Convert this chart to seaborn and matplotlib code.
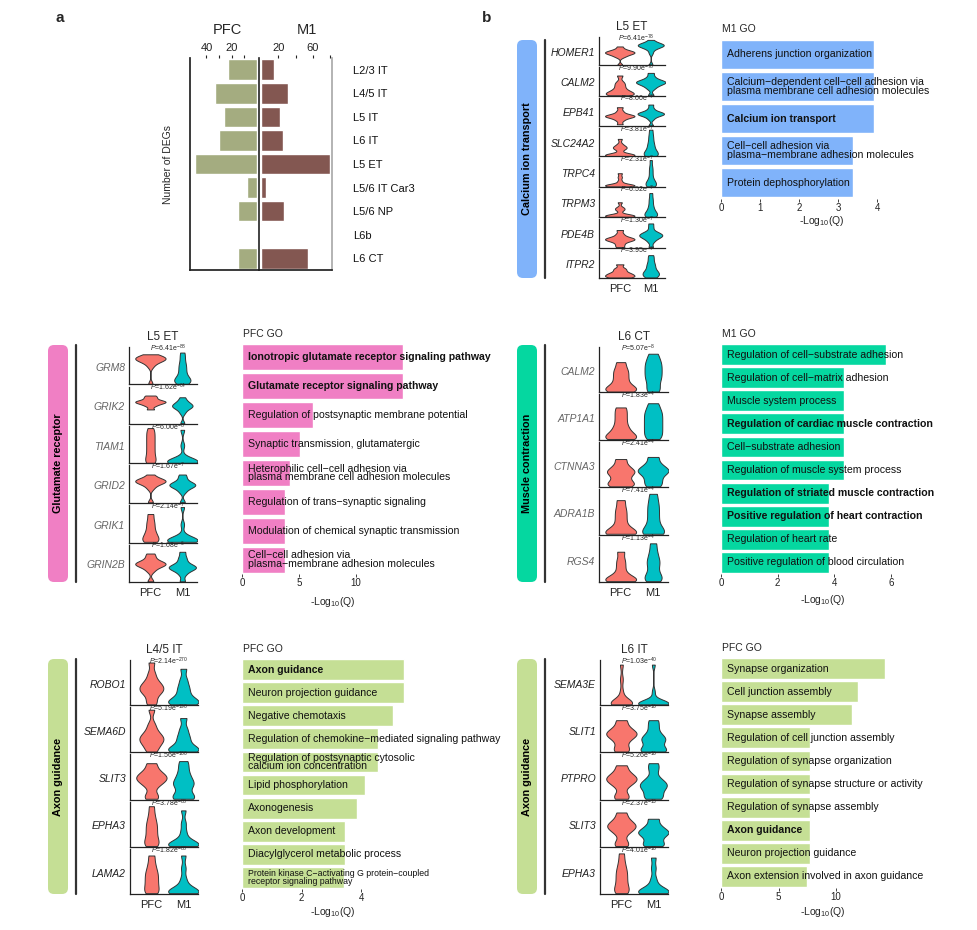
import numpy as np
import pandas as pd
import matplotlib
matplotlib.use('Agg')
import matplotlib.pyplot as plt
import seaborn as sns
from matplotlib.patches import FancyBboxPatch
from matplotlib.lines import Line2D

# ---------------- data ----------------
# panel a: number of DEGs per cell type
cell_types = ['L2/3 IT', 'L4/5 IT', 'L5 IT', 'L6 IT', 'L5 ET', 'L5/6 IT Car3', 'L5/6 NP', 'L6b', 'L6 CT']
pfc_degs = [23, 33, 26, 30, 49, 8, 15, 0, 15]
m1_degs = [15, 31, 22, 25, 80, 6, 27, 1.5, 54]

# violin panels (expression values per gene, scaled 0-1)
ca_genes = ['HOMER1', 'CALM2', 'EPB41', 'SLC24A2', 'TRPC4', 'TRPM3', 'PDE4B', 'ITPR2']
ca_pfc = [[0, 0.3, 0.35, 0.4, 0.42, 0.45, 0.46, 0.48, 0.5, 0.52, 0.55, 0.6, 0.7],
          [0, 0.02, 0.04, 0.06, 0.1, 0.15, 0.2, 0.3, 0.4, 0.5, 0.75],
          [0.05, 0.2, 0.28, 0.33, 0.35, 0.36, 0.38, 0.4, 0.45, 0.55, 0.7],
          [0, 0.01, 0.02, 0.03, 0.04, 0.05, 0.06, 0.08, 0.25, 0.3, 0.33, 0.36, 0.45, 0.65],
          [0, 0.01, 0.02, 0.03, 0.04, 0.05, 0.06, 0.08, 0.2, 0.35, 0.5],
          [0, 0.01, 0.02, 0.03, 0.04, 0.05, 0.06, 0.08, 0.25, 0.3, 0.35, 0.55],
          [0, 0.1, 0.2, 0.25, 0.28, 0.3, 0.32, 0.35, 0.4, 0.5, 0.65],
          [0, 0.02, 0.05, 0.08, 0.12, 0.15, 0.2, 0.28, 0.35, 0.5]]
ca_m1 = [[0, 0.45, 0.6, 0.65, 0.7, 0.72, 0.74, 0.75, 0.77, 0.78, 0.8, 0.85, 0.95],
         [0, 0.25, 0.35, 0.4, 0.45, 0.48, 0.5, 0.52, 0.55, 0.6, 0.7, 0.85],
         [0, 0.25, 0.35, 0.4, 0.42, 0.44, 0.46, 0.48, 0.5, 0.55, 0.65, 0.8],
         [0, 0.02, 0.05, 0.1, 0.15, 0.2, 0.3, 0.4, 0.5, 0.65, 0.8, 1.0],
         [0, 0.03, 0.06, 0.1, 0.15, 0.2, 0.3, 0.45, 0.6, 0.75, 1.0],
         [0, 0.03, 0.06, 0.1, 0.15, 0.2, 0.3, 0.4, 0.55, 0.7, 0.9],
         [0, 0.2, 0.3, 0.35, 0.4, 0.42, 0.45, 0.48, 0.5, 0.55, 0.6, 0.75, 0.9],
         [0, 0.05, 0.1, 0.15, 0.2, 0.25, 0.35, 0.45, 0.55, 0.7, 0.85]]
ca_pvals = ['6.41e-78', '9.90e-78', '8.00e-7', '3.81e-7', '2.31e-7', '6.52e-7', '1.30e-7', '3.95e-7']

glu_genes = ['GRM8', 'GRIK2', 'TIAM1', 'GRID2', 'GRIK1', 'GRIN2B']
glu_pfc = [[0, 0.5, 0.6, 0.65, 0.68, 0.7, 0.72, 0.74, 0.75, 0.78, 0.8, 0.85],
           [0.4, 0.5, 0.55, 0.58, 0.6, 0.62, 0.64, 0.65, 0.7, 0.75, 0.8],
           [0, 0.05, 0.1, 0.2, 0.3, 0.4, 0.5, 0.6, 0.7, 0.8, 0.9, 1.0],
           [0, 0.4, 0.5, 0.55, 0.58, 0.6, 0.62, 0.64, 0.65, 0.7, 0.8],
           [0, 0.05, 0.1, 0.2, 0.3, 0.45, 0.6, 0.8],
           [0, 0.3, 0.4, 0.45, 0.48, 0.5, 0.52, 0.55, 0.6, 0.7, 0.8]]
glu_m1 = [[0, 0.05, 0.08, 0.1, 0.15, 0.2, 0.3, 0.4, 0.5, 0.6, 0.75, 0.9],
          [0, 0.3, 0.4, 0.45, 0.48, 0.5, 0.52, 0.55, 0.6, 0.65, 0.75],
          [0, 0.01, 0.02, 0.03, 0.04, 0.05, 0.06, 0.08, 0.15, 0.5, 0.95],
          [0, 0.3, 0.4, 0.45, 0.48, 0.5, 0.52, 0.55, 0.6, 0.7, 0.8],
          [0, 0.01, 0.02, 0.03, 0.04, 0.05, 0.06, 0.08, 0.1, 0.2, 0.5, 1.0],
          [0, 0.2, 0.3, 0.35, 0.38, 0.4, 0.42, 0.45, 0.5, 0.6, 0.7, 0.85]]
glu_pvals = ['6.41e-88', '1.62e-64', '6.00e-8', '1.67e-7', '2.14e-7', '1.08e-6']

mus_genes = ['CALM2', 'ATP1A1', 'CTNNA3', 'ADRA1B', 'RGS4']
mus_pfc = [[0, 0.02, 0.05, 0.1, 0.15, 0.25, 0.35, 0.45, 0.55, 0.7],
           [0, 0.02, 0.05, 0.1, 0.2, 0.3, 0.45, 0.6, 0.75],
           [0, 0.05, 0.1, 0.2, 0.3, 0.35, 0.4, 0.5, 0.65],
           [0, 0.01, 0.03, 0.05, 0.15, 0.3, 0.45, 0.6, 0.8],
           [0, 0.01, 0.03, 0.05, 0.1, 0.2, 0.35, 0.5, 0.7]]
mus_m1 = [[0, 0.1, 0.25, 0.35, 0.45, 0.55, 0.65, 0.75, 0.9],
          [0, 0.1, 0.2, 0.3, 0.4, 0.5, 0.6, 0.7, 0.85],
          [0, 0.1, 0.2, 0.3, 0.35, 0.4, 0.45, 0.55, 0.7],
          [0, 0.02, 0.05, 0.15, 0.3, 0.45, 0.6, 0.75, 0.95],
          [0, 0.05, 0.1, 0.2, 0.35, 0.45, 0.55, 0.7, 0.9]]
mus_pvals = ['5.07e-8', '1.83e-4', '2.41e-4', '7.41e-4', '1.13e-4']

ax45_genes = ['ROBO1', 'SEMA6D', 'SLIT3', 'EPHA3', 'LAMA2']
ax45_pfc = [[0, 0.1, 0.25, 0.3, 0.35, 0.4, 0.45, 0.5, 0.6, 0.75, 1.0],
            [0, 0.1, 0.2, 0.25, 0.3, 0.35, 0.4, 0.5, 0.65, 1.0],
            [0, 0.1, 0.3, 0.4, 0.45, 0.5, 0.55, 0.6, 0.7, 0.85],
            [0, 0.05, 0.1, 0.2, 0.3, 0.4, 0.5, 0.6, 0.75, 0.95],
            [0, 0.05, 0.15, 0.25, 0.35, 0.45, 0.55, 0.7, 0.9]]
ax45_m1 = [[0, 0.02, 0.04, 0.06, 0.1, 0.15, 0.25, 0.35, 0.45, 0.6, 0.85],
           [0, 0.02, 0.04, 0.06, 0.1, 0.2, 0.3, 0.4, 0.55, 0.8],
           [0, 0.02, 0.05, 0.15, 0.3, 0.35, 0.4, 0.5, 0.6, 0.75, 0.9],
           [0, 0.01, 0.02, 0.03, 0.04, 0.06, 0.1, 0.2, 0.35, 0.55, 0.85],
           [0, 0.01, 0.02, 0.03, 0.04, 0.06, 0.1, 0.2, 0.35, 0.6, 0.9]]
ax45_pvals = ['2.14e-270', '5.19e-190', '1.56e-100', '3.78e-88', '1.82e-88']

ax6_genes = ['SEMA3E', 'SLIT1', 'PTPRO', 'SLIT3', 'EPHA3']
ax6_pfc = [[0, 0.01, 0.02, 0.03, 0.04, 0.05, 0.06, 0.07, 0.3, 0.6, 0.95],
           [0, 0.1, 0.25, 0.35, 0.4, 0.45, 0.5, 0.6, 0.75],
           [0, 0.1, 0.3, 0.4, 0.45, 0.5, 0.55, 0.65, 0.8],
           [0, 0.1, 0.3, 0.4, 0.45, 0.5, 0.55, 0.65, 0.8],
           [0, 0.05, 0.1, 0.2, 0.3, 0.4, 0.5, 0.6, 0.75, 0.95]]
ax6_m1 = [[0, 0.005, 0.01, 0.015, 0.02, 0.025, 0.03, 0.035, 0.04, 0.045, 0.05, 0.3, 0.95],
          [0, 0.02, 0.05, 0.15, 0.25, 0.3, 0.35, 0.45, 0.6, 0.75],
          [0, 0.05, 0.15, 0.25, 0.3, 0.35, 0.4, 0.5, 0.7, 0.85],
          [0, 0.05, 0.15, 0.25, 0.3, 0.35, 0.4, 0.5, 0.65],
          [0, 0.01, 0.02, 0.03, 0.04, 0.06, 0.1, 0.2, 0.35, 0.6, 0.85]]
ax6_pvals = ['1.03e-40', '3.75e-16', '5.26e-16', '2.37e-13', '4.01e-10']

# GO enrichment panels
go_ca_terms = ['Adherens junction organization',
               'Calcium\u2212dependent cell\u2212cell adhesion via\nplasma membrane cell adhesion molecules',
               'Calcium ion transport',
               'Cell\u2212cell adhesion via\nplasma\u2212membrane adhesion molecules',
               'Protein dephosphorylation']
go_ca_vals = [3.92, 3.92, 3.92, 3.37, 3.37]
go_ca_bold = [2]

go_glu_terms = ['Ionotropic glutamate receptor signaling pathway',
                'Glutamate receptor signaling pathway',
                'Regulation of postsynaptic membrane potential',
                'Synaptic transmission, glutamatergic',
                'Heterophilic cell\u2212cell adhesion via\nplasma membrane cell adhesion molecules',
                'Regulation of trans\u2212synaptic signaling',
                'Modulation of chemical synaptic transmission',
                'Cell\u2212cell adhesion via\nplasma\u2212membrane adhesion molecules']
go_glu_vals = [14.1, 14.1, 6.2, 5.1, 4.2, 3.8, 3.8, 3.8]
go_glu_bold = [0, 1]

go_mus_terms = ['Regulation of cell\u2212substrate adhesion',
                'Regulation of cell\u2212matrix adhesion',
                'Muscle system process',
                'Regulation of cardiac muscle contraction',
                'Cell\u2212substrate adhesion',
                'Regulation of muscle system process',
                'Regulation of striated muscle contraction',
                'Positive regulation of heart contraction',
                'Regulation of heart rate',
                'Positive regulation of blood circulation']
go_mus_vals = [5.82, 4.35, 4.35, 4.33, 4.33, 4.33, 3.82, 3.82, 3.82, 3.82]
go_mus_bold = [3, 6, 7]

go_ax45_terms = ['Axon guidance',
                 'Neuron projection guidance',
                 'Negative chemotaxis',
                 'Regulation of chemokine\u2212mediated signaling pathway',
                 'Regulation of postsynaptic cytosolic\ncalcium ion concentration',
                 'Lipid phosphorylation',
                 'Axonogenesis',
                 'Axon development',
                 'Diacylglycerol metabolic process',
                 'Protein kinase C\u2212activating G protein\u2212coupled\nreceptor signaling pathway']
go_ax45_vals = [5.42, 5.42, 5.05, 4.57, 4.57, 4.11, 3.84, 3.47, 3.47, 3.42]
go_ax45_bold = [0]

go_ax6_terms = ['Synapse organization',
                'Cell junction assembly',
                'Synapse assembly',
                'Regulation of cell junction assembly',
                'Regulation of synapse organization',
                'Regulation of synapse structure or activity',
                'Regulation of synapse assembly',
                'Axon guidance',
                'Neuron projection guidance',
                'Axon extension involved in axon guidance']
go_ax6_vals = [14.25, 11.9, 11.4, 7.75, 7.75, 7.75, 7.75, 7.75, 7.75, 7.5]
go_ax6_bold = [7]

# ---------------- style ----------------
sns.set_theme(style='white')
plt.rcParams['font.family'] = ['Liberation Sans', 'DejaVu Sans']
plt.rcParams['mathtext.fontset'] = 'custom'
plt.rcParams['mathtext.rm'] = 'Liberation Sans'
plt.rcParams['mathtext.it'] = 'Liberation Sans:italic'

W, H = 977, 930
fig = plt.figure(figsize=(W / 100, H / 100), dpi=100)
fig.patch.set_facecolor('white')

vio_pal = {'PFC': '#F8766D', 'M1': '#00BFC4'}


def add_ax(x0, y0, x1, y1):
    return fig.add_axes([x0 / W, 1 - y1 / H, (x1 - x0) / W, (y1 - y0) / H])


def ftext(x, y, s, **kw):
    return fig.text(x / W, 1 - y / H, s, **kw)


def category_bar(x0, x1, y0, y1, color, label, line_x):
    box = FancyBboxPatch((x0 / 100, (H - y1) / 100), (x1 - x0) / 100, (y1 - y0) / 100,
                         boxstyle='round,pad=0,rounding_size=0.06',
                         transform=fig.dpi_scale_trans, facecolor=color, edgecolor='none')
    fig.add_artist(box)
    ftext((x0 + x1) / 2, (y0 + y1) / 2, label, rotation=90, ha='center', va='center',
          fontsize=7.8, fontweight='bold', color='black')
    fig.add_artist(Line2D([line_x / W, line_x / W], [1 - y0 / H, 1 - y1 / H],
                          transform=fig.transFigure, color='#333333', lw=1.6))


def violin_panel(x0, x1, y0, y1, genes, pfc, m1, pvals, title, gene_color):
    n = len(genes)
    h = (y1 - y0) / n
    for i, g in enumerate(genes):
        ax = add_ax(x0, y0 + i * h + 2, x1, y0 + (i + 1) * h)
        df = pd.DataFrame({'group': ['PFC'] * len(pfc[i]) + ['M1'] * len(m1[i]),
                           'expr': pfc[i] + m1[i]})
        sns.violinplot(data=df, x='group', y='expr', hue='group', order=['PFC', 'M1'],
                       hue_order=['PFC', 'M1'], palette=vio_pal, inner=None, cut=0,
                       density_norm='area', common_norm=True, bw_adjust=0.55,
                       width=0.95, saturation=1, linewidth=0.7, linecolor='#333333',
                       legend=False, ax=ax)
        ax.set_xlim(-0.67, 1.46)
        ax.set_ylim(-0.02, 1.06)
        ax.set_xlabel('')
        ax.set_ylabel('')
        ax.set_yticks([])
        for s in ['top', 'right']:
            ax.spines[s].set_visible(False)
        for s in ['left', 'bottom']:
            ax.spines[s].set_color('#222222')
            ax.spines[s].set_linewidth(0.9)
        ax.set_facecolor('none')
        if i == n - 1:
            ax.tick_params(axis='x', length=0, pad=4, labelsize=8, colors='#222222')
        else:
            ax.tick_params(axis='x', length=0, labelbottom=False)
        px = (x1 - x0)
        ax.text(-4 / px, 0.45, g, transform=ax.transAxes, ha='right', va='center',
                fontsize=7.5, style='italic', color=gene_color)
        mant, expo = pvals[i].split('e')
        ax.text(0.57, 0.97, r'$P$=' + mant + 'e$^{' + expo.replace('-', '\u2212') + '}$',
                transform=ax.transAxes, ha='center', va='center', fontsize=5)
    ftext((x0 + x1) / 2, y0 - 8, title, ha='center', va='center', fontsize=8.5)


def go_panel(x0, x1, y0, y1, xmax, terms, vals, bold, color, ticks, title, lab_x, lab_y,
             small=()):
    ax = add_ax(x0, y0, x1, y1)
    n = len(terms)
    sns.barplot(x=vals, y=list(range(n)), orient='h', color=color, saturation=1,
                width=0.9, ax=ax)
    ax.set_xlim(0, xmax)
    ax.set_ylim(n - 0.5, -0.5)
    ax.set_yticks([])
    ax.set_ylabel('')
    ax.set_xticks(ticks)
    ax.tick_params(axis='x', length=2, width=0.6, labelsize=7, pad=1, colors='#222222',
                   bottom=True)
    for s in ax.spines.values():
        s.set_visible(False)
    ax.set_facecolor('none')
    for i, t in enumerate(terms):
        ax.annotate(t, xy=(0, i), xytext=(4.5, 0), textcoords='offset points',
                    ha='left', va='center', fontsize=6.3 if i in small else 7.6,
                    fontweight='bold' if i in bold else 'normal', linespacing=0.85,
                    color='#111111')
    ftext(x0 + 1, y0 - 9, title, ha='left', va='center', fontsize=7.5)
    ftext(lab_x, lab_y, '-Log$_{10}$(Q)', ha='center', va='center', fontsize=7.5)


# ---------------- panel a ----------------
ax_l = add_ax(190, 58, 259, 270)
ax_r = add_ax(259, 58, 332, 270)
sns.barplot(x=pfc_degs, y=cell_types, orient='h', color='#A4AC80', saturation=1,
            width=0.88, ax=ax_l)
sns.barplot(x=m1_degs, y=cell_types, orient='h', color='#835751', saturation=1,
            width=0.88, ax=ax_r)
ax_l.set_xlim(53, -1.5)
ax_r.set_xlim(-2.3, 82)
for ax in (ax_l, ax_r):
    ax.set_ylim(8.5, -0.5)
    ax.set_xlabel('')
    ax.set_ylabel('')
    ax.xaxis.tick_top()
    ax.tick_params(axis='x', top=True, bottom=False, labeltop=True, labelbottom=False,
                   length=2.5, width=0.8, labelsize=8, pad=1, colors='#222222')
    ax.spines['top'].set_visible(False)
    ax.spines['bottom'].set_color('#222222')
    ax.set_facecolor('none')
ax_l.set_xticks([40, 30, 20, 10])
ax_l.set_xticklabels(['40', '', '20', ''])
ax_r.set_xticks([20, 40, 60, 80])
ax_r.set_xticklabels(['20', '', '60', ''])
ax_l.tick_params(axis='y', left=False, labelleft=False)
ax_l.spines['left'].set_color('#222222')
ax_l.spines['right'].set_color('#222222')
ax_l.spines['right'].set_linewidth(1.2)
ax_r.spines['left'].set_visible(False)
ax_r.spines['right'].set_color('#aaaaaa')
ax_r.tick_params(axis='y', left=False, right=False, labelleft=False, labelright=True,
                 labelsize=8, pad=9, colors='#111111')
ftext(227, 30, 'PFC', ha='center', va='center', fontsize=10.5)
ftext(307, 30, 'M1', ha='center', va='center', fontsize=10.5)
ftext(168, 164, 'Number of DEGs', rotation=90, ha='center', va='center', fontsize=7.5)

ftext(60, 18, 'a', ha='center', va='center', fontsize=11, fontweight='bold')
ftext(487, 18, 'b', ha='center', va='center', fontsize=11, fontweight='bold')

# ---------------- panel b ----------------
# calcium ion transport (top right)
category_bar(517, 537, 40, 278, '#80B3FA', 'Calcium ion transport', 545)
violin_panel(599, 665, 35, 278, ca_genes, ca_pfc, ca_m1, ca_pvals, 'L5 ET', '#222222')
go_panel(721, 881, 38, 199, 4.1, go_ca_terms, go_ca_vals, go_ca_bold, '#80B3FA',
         [0, 1, 2, 3, 4], 'M1 GO', 822, 221)

# glutamate receptor (middle left)
category_bar(48, 68, 345, 582, '#F07FC4', 'Glutamate receptor', 76)
violin_panel(129, 197, 345, 582, glu_genes, glu_pfc, glu_m1, glu_pvals, 'L5 ET', '#666666')
go_panel(242, 413, 343, 574, 15, go_glu_terms, go_glu_vals, go_glu_bold, '#F07FC4',
         [0, 5, 10], 'PFC GO', 333, 602)

# muscle contraction (middle right)
category_bar(517, 537, 345, 582, '#05D7A0', 'Muscle contraction', 545)
violin_panel(599, 668, 345, 582, mus_genes, mus_pfc, mus_m1, mus_pvals, 'L6 CT', '#666666')
go_panel(721, 894, 343, 574, 6.1, go_mus_terms, go_mus_vals, go_mus_bold, '#05D7A0',
         [0, 2, 4, 6], 'M1 GO', 823, 600)

# axon guidance L4/5 IT (bottom left)
category_bar(48, 68, 659, 894, '#C5DF95', 'Axon guidance', 76)
violin_panel(130, 198, 658, 894, ax45_genes, ax45_pfc, ax45_m1, ax45_pvals, 'L4/5 IT', '#222222')
go_panel(242, 409, 658, 889, 5.6, go_ax45_terms, go_ax45_vals, go_ax45_bold, '#C5DF95',
         [0, 2, 4], 'PFC GO', 333, 912, small=(9,))

# axon guidance L6 IT (bottom right)
category_bar(517, 537, 659, 894, '#C5DF95', 'Axon guidance', 545)
violin_panel(600, 668, 658, 894, ax6_genes, ax6_pfc, ax6_m1, ax6_pvals, 'L6 IT', '#222222')
go_panel(721, 888, 657, 888, 14.5, go_ax6_terms, go_ax6_vals, go_ax6_bold, '#C5DF95',
         [0, 5, 10], 'PFC GO', 823, 912)

fig.savefig('out.png', dpi=100, facecolor='white')
